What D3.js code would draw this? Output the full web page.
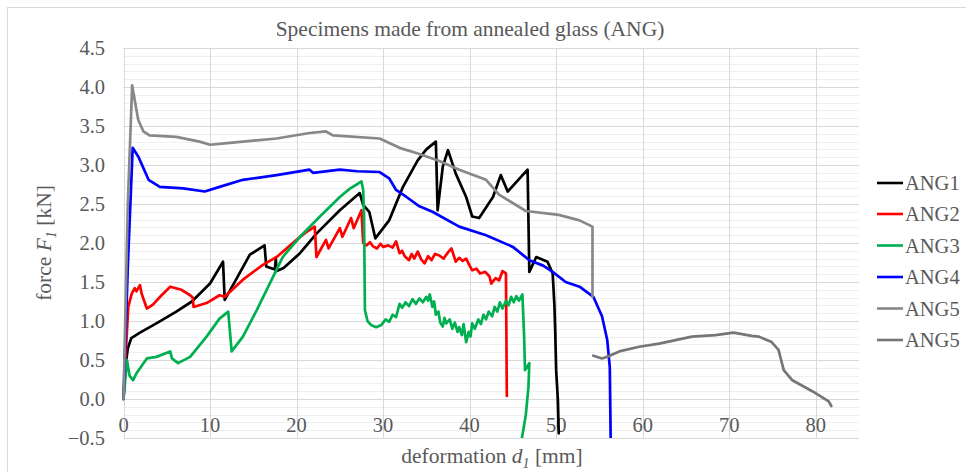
<!DOCTYPE html>
<html>
<head>
<meta charset="utf-8">
<script src="https://cdn.jsdelivr.net/npm/d3@7"></script>
<style>
  html, body { margin: 0; padding: 0; background: #ffffff; }
  svg { display: block; }
  text { font-family: "Liberation Serif", "Times New Roman", serif; fill: #595959; }
</style>
</head>
<body>
<svg id="chart" width="966" height="472"></svg>
<script>
// Force–deformation records, [deformation d1 (mm), force F1 (kN)]
const ang1 = [[0,0],[0.2,0.4],[0.5,0.65],[0.9,0.78],[1.9,0.85],[3.8,0.97],[6.1,1.12],[7.9,1.25],[10,1.48],
  [11.5,1.76],[11.7,1.27],[13.1,1.55],[14.6,1.85],[16.3,1.97],[16.5,1.7],[17.5,1.66],[17.6,1.8],[17.7,1.64],
  [18.5,1.68],[20.4,1.87],[22.3,2.12],[25.0,2.42],[27.3,2.64],[27.7,2.49],[28.4,2.40],[29.1,2.06],[30.7,2.29],
  [32.3,2.72],[34.0,3.06],[35.0,3.2],[36.1,3.30],[36.3,2.42],[36.9,2.98],[37.5,3.19],[38.4,2.89],[39.6,2.59],
  [40.3,2.34],[41.1,2.32],[42.7,2.59],[43.6,2.87],[44.4,2.66],[46.7,2.94],[46.9,1.63],[47.7,1.82],[49.0,1.76],
  [49.6,1.61],[49.8,1.2],[49.9,0.84],[50.0,0.37],[50.2,-0.01],[50.3,-0.44]];

const ang2 = [[0,0],[0.2,0.46],[0.55,1.18],[0.95,1.35],[1.3,1.42],[1.5,1.38],[1.9,1.46],[2.1,1.35],[2.7,1.16],
  [3.4,1.21],[4.4,1.33],[5.4,1.44],[6.7,1.40],[7.7,1.33],[8.0,1.30],[8.1,1.18],[9.6,1.23],[11.1,1.33],[11.7,1.31],
  [13.8,1.53],[16.1,1.72],[17.7,1.82],[20.0,2.04],[21.0,2.13],[22.1,2.21],[22.3,1.82],[23.4,2.04],[23.7,1.93],
  [25.0,2.19],[25.3,2.08],[26.3,2.32],[26.6,2.19],[27.5,2.42],[27.7,2.0],[28.1,1.97],[28.5,2.01],[28.8,1.96],
  [29.3,1.93],[29.7,1.99],[30.0,1.95],[30.6,1.97],[31.1,1.94],[31.5,2.02],[31.9,1.87],[32.2,1.90],[32.5,1.83],
  [33.0,1.78],[33.3,1.86],[33.6,1.80],[34.0,1.89],[34.4,1.79],[34.8,1.74],[35.2,1.83],[35.6,1.78],[36.0,1.86],
  [36.5,1.84],[37.0,1.80],[37.5,1.88],[37.9,1.93],[38.4,1.76],[38.8,1.81],[39.2,1.77],[39.6,1.80],[40.0,1.71],
  [40.3,1.65],[40.8,1.67],[41.2,1.61],[41.8,1.63],[42.3,1.57],[42.5,1.48],[43.0,1.55],[43.4,1.52],[43.8,1.64],
  [44.2,1.61],[44.3,0.04]];

const ang3 = [[0,0],[0.1,0.12],[0.4,0.5],[0.7,0.3],[1.1,0.24],[1.5,0.33],[2.7,0.52],[3.8,0.54],[5.4,0.61],
  [5.6,0.52],[6.3,0.46],[7.7,0.54],[9.6,0.80],[11.1,1.03],[12.1,1.12],[12.5,0.61],[13.8,0.80],[15.4,1.14],
  [16.9,1.48],[18.4,1.82],[20.4,2.08],[22.7,2.34],[25.0,2.59],[26.2,2.70],[27.1,2.76],[27.5,2.79],[27.7,2.68],
  [27.8,2.34],[27.9,1.14],[28.2,1.0],[28.6,0.95],[29.2,0.92],[29.8,0.95],[30.3,1.02],[30.7,0.99],[31.1,1.08],
  [31.5,1.05],[31.9,1.22],[32.2,1.17],[32.6,1.24],[33.0,1.19],[33.4,1.28],[33.8,1.22],[34.2,1.29],[34.6,1.24],
  [35.0,1.31],[35.2,1.26],[35.4,1.34],[35.7,1.18],[35.9,1.25],[36.1,1.08],[36.4,1.12],[36.6,0.98],[36.9,0.93],
  [37.1,1.04],[37.3,0.97],[37.7,1.02],[38.0,0.90],[38.3,0.98],[38.6,0.86],[38.8,0.92],[39.1,0.82],[39.3,0.96],
  [39.6,0.73],[39.9,0.86],[40.1,0.80],[40.3,0.97],[40.6,0.90],[41.0,1.02],[41.3,0.96],[41.6,1.08],[41.9,1.02],
  [42.2,1.12],[42.6,1.06],[42.9,1.18],[43.2,1.12],[43.5,1.24],[43.8,1.16],[44.2,1.26],[44.5,1.20],[44.8,1.31],
  [45.1,1.24],[45.4,1.32],[45.7,1.26],[46.1,1.34],[46.3,0.80],[46.4,0.37],[46.9,0.46],[46.8,0.16],[46.5,-0.2],
  [45.9,-0.6]];

const ang4 = [[0,0],[0.5,1.7],[1.06,3.22],[1.7,3.11],[2.9,2.81],[4.2,2.72],[6.9,2.70],[9.4,2.66],[11.1,2.72],
  [13.8,2.81],[17.7,2.87],[21.5,2.94],[21.9,2.90],[25.0,2.94],[27.0,2.92],[29.6,2.91],[30.7,2.83],[31.5,2.68],
  [32.7,2.59],[34.2,2.47],[35.7,2.40],[38.8,2.21],[41.9,2.10],[45.0,1.95],[46.9,1.78],[48.5,1.71],[49.6,1.63],
  [51.1,1.50],[52.7,1.44],[54.3,1.31],[55.3,1.06],[55.9,0.76],[56.2,0.41],[56.3,-0.5]];

const ang5a = [[0,0],[0.5,2.5],[1.0,4.02],[1.7,3.58],[2.3,3.43],[3.0,3.38],[6.1,3.36],[8.8,3.30],[10,3.26],
  [12,3.28],[13.8,3.30],[17.7,3.34],[21.5,3.41],[23.4,3.43],[24.2,3.38],[29.6,3.34],[31.9,3.22],[34.2,3.14],
  [36.5,3.05],[38.8,2.94],[41.9,2.81],[43.4,2.62],[46.5,2.41],[50.3,2.36],[52.7,2.29],[54.2,2.21],[54.2,1.31]];

const ang5b = [[54.3,0.555],[55.3,0.52],[56.1,0.55],[57.3,0.61],[59.6,0.67],[61.9,0.71],[65.7,0.80],[68.4,0.82],
  [70.5,0.85],[72.6,0.81],[73.4,0.80],[74.9,0.73],[75.7,0.63],[76.0,0.50],[76.3,0.37],[77.3,0.24],[79.6,0.10],
  [81.5,-0.03],[81.8,-0.09]];

const seriesNames = ["ANG1", "ANG2", "ANG3", "ANG4", "ANG5", "ANG5"];
const seriesData = [ang1, ang2, ang3, ang4, ang5a, ang5b];
const seriesColors = ["#000000", "#ff0000", "#00b050", "#0000ff", "#888888", "#767676"];

const xTicks = [0, 10, 20, 30, 40, 50, 60, 70, 80];
const yTicks = [-0.5, 0.0, 0.5, 1.0, 1.5, 2.0, 2.5, 3.0, 3.5, 4.0, 4.5];

const svg = d3.select("#chart");

// chart area frame
svg.append("rect").attr("x", 7.5).attr("y", 7.5).attr("width", 1000).attr("height", 1000)
  .attr("fill", "none").attr("stroke", "#d9d9d9").attr("stroke-width", 1);

const plot = { left: 123.5, right: 859, top: 48, bottom: 438 };
const x = d3.scaleLinear().domain([0, 85]).range([plot.left, plot.right]);
const y = d3.scaleLinear().domain([-0.5, 4.5]).range([plot.bottom, plot.top]);

// minor horizontal gridlines every 0.1 kN
const minor = d3.range(-5, 46).map(i => i / 10);
svg.append("g").selectAll("line").data(minor).join("line")
  .attr("x1", plot.left).attr("x2", plot.right)
  .attr("y1", d => Math.round(y(d)) + 0.5).attr("y2", d => Math.round(y(d)) + 0.5)
  .attr("stroke", "#efefef").attr("stroke-width", 1);

// major horizontal gridlines
svg.append("g").selectAll("line").data(yTicks).join("line")
  .attr("x1", plot.left).attr("x2", plot.right)
  .attr("y1", d => Math.round(y(d)) + 0.5).attr("y2", d => Math.round(y(d)) + 0.5)
  .attr("stroke", "#d9d9d9").attr("stroke-width", 1);

// vertical gridlines
svg.append("g").selectAll("line").data(xTicks).join("line")
  .attr("x1", d => Math.round(x(d)) + 0.5).attr("x2", d => Math.round(x(d)) + 0.5)
  .attr("y1", plot.top).attr("y2", plot.bottom)
  .attr("stroke", "#d9d9d9").attr("stroke-width", 1);

// y tick labels
svg.append("g").selectAll("text").data(yTicks).join("text")
  .attr("x", 105).attr("y", d => y(d)).attr("dy", "0.35em")
  .attr("text-anchor", "end").attr("font-size", "20.5px")
  .text(d => d3.format(".1f")(d));

// x tick labels, hung below the axis at F = 0
svg.append("g").selectAll("text").data(xTicks).join("text")
  .attr("x", d => x(d)).attr("y", y(0) + 26).attr("dy", "0.35em")
  .attr("text-anchor", "middle").attr("font-size", "20.5px")
  .text(d => d);

// curves
svg.append("defs").append("clipPath").attr("id", "plotClip")
  .append("rect").attr("x", plot.left - 2).attr("y", plot.top)
  .attr("width", plot.right - plot.left + 2).attr("height", plot.bottom - plot.top);

const line = d3.line().x(d => x(d[0])).y(d => y(d[1]));
const curves = svg.append("g").attr("clip-path", "url(#plotClip)");
seriesData.forEach((s, i) => {
  curves.append("path").datum(s)
    .attr("d", line)
    .attr("fill", "none")
    .attr("stroke", seriesColors[i])
    .attr("stroke-width", 2.7)
    .attr("stroke-linejoin", "round")
    .attr("stroke-linecap", "round");
});

// titles
svg.append("text").attr("x", 470).attr("y", 28).attr("dy", "0.35em")
  .attr("text-anchor", "middle").attr("font-size", "21.5px")
  .text("Specimens made from annealed glass (ANG)");

const xt = svg.append("text").attr("x", 492).attr("y", 455).attr("dy", "0.35em")
  .attr("text-anchor", "middle").attr("font-size", "21.5px");
xt.append("tspan").text("deformation ");
xt.append("tspan").attr("font-style", "italic").text("d");
xt.append("tspan").attr("font-style", "italic").attr("font-size", "14px").attr("dy", "5").text("1");
xt.append("tspan").attr("dy", "-5").text(" [mm]");

const yt = svg.append("text").attr("transform", "translate(43,243) rotate(-90)")
  .attr("dy", "0.35em").attr("text-anchor", "middle").attr("font-size", "21.5px");
yt.append("tspan").text("force ");
yt.append("tspan").attr("font-style", "italic").text("F");
yt.append("tspan").attr("font-style", "italic").attr("font-size", "14px").attr("dy", "5").text("1");
yt.append("tspan").attr("dy", "-5").text(" [kN]");

// legend
const legendY = [183, 214, 245.5, 277, 308.5, 340];
const legend = svg.append("g");
seriesNames.forEach((name, i) => {
  legend.append("line").attr("x1", 877).attr("x2", 903)
    .attr("y1", legendY[i]).attr("y2", legendY[i])
    .attr("stroke", seriesColors[i]).attr("stroke-width", 2.6);
  legend.append("text").attr("x", 905).attr("y", legendY[i]).attr("dy", "0.35em")
    .attr("font-size", "20.5px").text(name);
});
</script>
</body>
</html>
